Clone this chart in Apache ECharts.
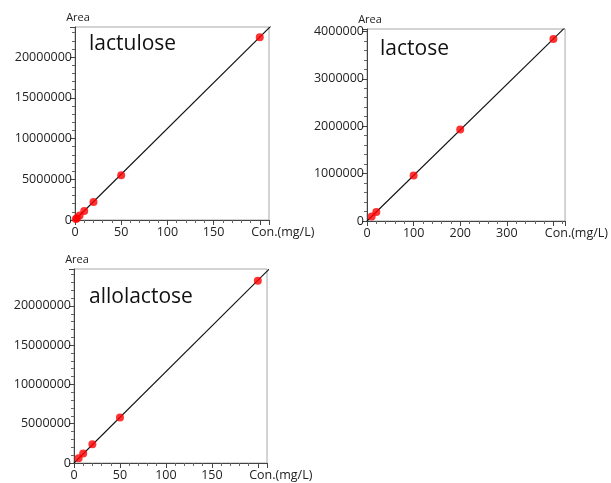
<!DOCTYPE html>
<html>
<head>
<meta charset="utf-8">
<script src="https://cdn.jsdelivr.net/npm/echarts@6/dist/echarts.min.js"></script>
<style>html,body{margin:0;padding:0;background:#fff}#c{width:611px;height:483px}</style>
</head>
<body>
<div id="c"></div>
<script>
// ---- data ----
const titles = ['lactulose', 'lactose', 'allolactose'];
const lactuloseX = [1, 2, 5, 10, 20, 50, 200];
const lactuloseY = [110000, 230000, 560000, 1100000, 2200000, 5500000, 22450000];
const lactoseX = [10, 20, 100, 200, 400];
const lactoseY = [95000, 190000, 960000, 1930000, 3840000];
const allolactoseX = [5, 10, 20, 50, 200];
const allolactoseY = [620000, 1200000, 2380000, 5780000, 23200000];
// fitted calibration lines (end points)
const lactuloseFitX = [0, 215];
const lactuloseFitY = [0, 24150000];
const lactoseFitX = [0, 430];
const lactoseFitY = [0, 4130000];
const allolactoseFitX = [0, 215];
const allolactoseFitY = [0, 25000000];
// axis ranges / ticks
const xMax = [210, 425, 210];
const xInterval = [50, 100, 50];
const xNameAt = [200, 400, 200];   // tick whose label is replaced by the axis name
const yMax = [23700000, 4050000, 24700000];
const yInterval = [5000000, 1000000, 5000000];
const xNameText = 'Con.(mg/L)';
const yNameText = 'Area';

const zip = (a, b) => a.map((v, i) => [v, b[i]]);
const pointsX = [lactuloseX, lactoseX, allolactoseX];
const pointsY = [lactuloseY, lactoseY, allolactoseY];
const fitsX = [lactuloseFitX, lactoseFitX, allolactoseFitX];
const fitsY = [lactuloseFitY, lactoseFitY, allolactoseFitY];

const grids = [
  {left: 75, top: 27, width: 194, height: 193},
  {left: 367, top: 29, width: 199, height: 192},
  {left: 74, top: 269, width: 193, height: 194}
];
const titlePos = [[84, 29], [375, 34], [84, 282]];
const FONT = 'Open Sans';

const option = {
  animation: false,
  backgroundColor: '#fff',
  title: titles.map((t, i) => ({
    text: t, left: titlePos[i][0], top: titlePos[i][1],
    textStyle: {fontFamily: FONT, fontSize: 21, fontWeight: 'normal', color: '#111'}
  })),
  grid: grids.map(g => Object.assign({show: true, borderColor: '#a8a8a8', borderWidth: 1, backgroundColor: 'transparent'}, g)),
  xAxis: grids.map((g, i) => ({
    type: 'value', gridIndex: i, min: 0, max: xMax[i], interval: xInterval[i],
    splitLine: {show: false},
    axisLine: {lineStyle: {color: '#444', width: 1}},
    axisTick: {length: 5, lineStyle: {color: '#444'}},
    minorTick: {show: true, splitNumber: 5, length: 3, lineStyle: {color: '#666'}},
    axisLabel: {
      fontFamily: FONT, fontSize: 12.5, color: '#222', margin: 6, showMaxLabel: false,
      formatter: v => v === xNameAt[i] ? '{n|' + xNameText + '}' : (v % xInterval[i] === 0 ? String(v) : ''),
      rich: {n: {fontFamily: FONT, fontSize: 12.5, color: '#222', padding: [0, 0, 0, 46]}}
    }
  })),
  yAxis: grids.map((g, i) => ({
    type: 'value', gridIndex: i, min: 0, max: yMax[i], interval: yInterval[i],
    splitLine: {show: false},
    axisLine: {lineStyle: {color: '#444', width: 1}},
    axisTick: {length: 5, lineStyle: {color: '#444'}},
    minorTick: {show: true, splitNumber: 5, length: 3, lineStyle: {color: '#666'}},
    axisLabel: {
      fontFamily: FONT, fontSize: 12.5, color: '#222', margin: 3, showMaxLabel: false,
      formatter: v => (v % yInterval[i] === 0) ? String(v) : ''
    },
    name: yNameText, nameLocation: 'end', nameGap: 4,
    nameTextStyle: {fontFamily: FONT, fontSize: 11, color: '#222', align: 'center', padding: [0, 0, 0, 6]}
  })),
  series: [].concat(
    grids.map((g, i) => ({
      type: 'line', xAxisIndex: i, yAxisIndex: i, data: zip(fitsX[i], fitsY[i]),
      symbol: 'none', clip: true, lineStyle: {color: '#111', width: 1.1}, silent: true, z: 2
    })),
    grids.map((g, i) => ({
      type: 'scatter', xAxisIndex: i, yAxisIndex: i, data: zip(pointsX[i], pointsY[i]),
      symbol: 'circle', symbolSize: 8, itemStyle: {color: '#ff0000'}, z: 3
    }))
  )
};

echarts.init(document.getElementById('c')).setOption(option);
</script>
</body>
</html>
